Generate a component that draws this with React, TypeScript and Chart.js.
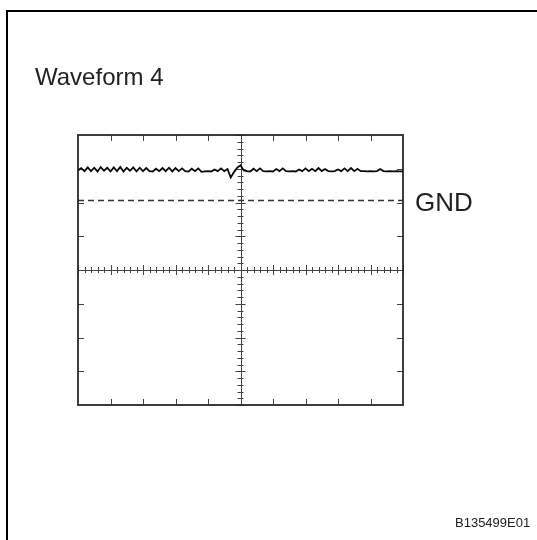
import React, { useEffect, useRef } from "react";
import { Chart, registerables } from "chart.js";

Chart.register(...registerables);

const TITLE = "Waveform 4";
const GND_LABEL = "GND";
const CODE_LABEL = "B135499E01";

const X_DIVISIONS = 10;
const Y_MIN = -4;
const Y_MAX = 4;
const GND_LEVEL = 2.07;
const SAMPLE_STEP = 0.1;

const waveValues: number[] = [
  2.95, 3.02, 2.93, 3.04, 2.93, 3.03, 2.92, 3.05, 2.94, 3.03,
  2.92, 3.04, 2.93, 3.05, 2.92, 3.03, 2.94, 3.04, 2.92, 3.03,
  2.93, 3.02, 2.93, 2.92, 3.0, 2.93, 3.02, 2.93, 3.03, 2.92,
  3.02, 2.93, 3.01, 2.93, 2.92, 3.0, 2.93, 3.01, 2.91, 2.92,
  2.93, 2.92, 2.98, 2.93, 3.01, 2.93, 2.99, 2.74, 2.9, 3.03,
  3.1, 2.95, 2.93, 2.92, 3.0, 2.93, 3.01, 2.93, 2.92, 2.93,
  2.92, 2.99, 2.93, 3.01, 2.93, 2.92, 2.93, 2.92, 2.98, 2.93,
  3.01, 2.93, 3.0, 2.93, 3.02, 2.93, 2.99, 2.93, 2.92, 2.93,
  2.98, 2.93, 3.01, 2.93, 3.02, 2.93, 3.0, 2.93, 2.93, 2.92,
  2.93, 2.92, 2.93, 2.99, 2.93, 2.92, 2.93, 2.92, 2.93, 2.92,
  2.92,
];

const scopePlugin = {
  id: "scopeGrid",
  beforeDatasetsDraw(chart: any) {
    const ctx = chart.ctx as CanvasRenderingContext2D;
    const xs = chart.scales.x;
    const ys = chart.scales.y;
    const left = xs.getPixelForValue(0);
    const right = xs.getPixelForValue(X_DIVISIONS);
    const top = ys.getPixelForValue(Y_MAX);
    const bottom = ys.getPixelForValue(Y_MIN);
    const cx = xs.getPixelForValue(X_DIVISIONS / 2);
    const cy = ys.getPixelForValue(0);
    ctx.save();

    // outer frame (top and left)
    ctx.strokeStyle = "#000";
    ctx.lineWidth = 2;
    ctx.beginPath();
    ctx.moveTo(7, 540);
    ctx.lineTo(7, 11);
    ctx.lineTo(537, 11);
    ctx.stroke();

    // center lines
    ctx.strokeStyle = "#444";
    ctx.lineWidth = 1;
    ctx.beginPath();
    ctx.moveTo(left, Math.round(cy) + 0.5);
    ctx.lineTo(right, Math.round(cy) + 0.5);
    ctx.moveTo(Math.round(cx) + 0.5, top);
    ctx.lineTo(Math.round(cx) + 0.5, bottom);
    ctx.stroke();

    // ticks on center lines
    ctx.beginPath();
    for (let i = 0; i <= X_DIVISIONS * 5; i++) {
      const v = i / 5;
      const px = Math.round(xs.getPixelForValue(v)) + 0.5;
      const len = i % 5 === 0 ? 5 : 3;
      ctx.moveTo(px, cy - len);
      ctx.lineTo(px, cy + len);
    }
    for (let i = 0; i <= (Y_MAX - Y_MIN) * 5; i++) {
      const v = Y_MIN + i / 5;
      const py = Math.round(ys.getPixelForValue(v)) + 0.5;
      const len = i % 5 === 0 ? 5 : 3;
      ctx.moveTo(cx - len, py);
      ctx.lineTo(cx + len, py);
    }
    ctx.stroke();

    // edge ticks
    ctx.beginPath();
    for (let i = 1; i < X_DIVISIONS; i++) {
      const px = Math.round(xs.getPixelForValue(i)) + 0.5;
      ctx.moveTo(px, top);
      ctx.lineTo(px, top + 6);
      ctx.moveTo(px, bottom);
      ctx.lineTo(px, bottom - 6);
    }
    for (let v = Y_MIN + 1; v < Y_MAX; v++) {
      const py = Math.round(ys.getPixelForValue(v)) + 0.5;
      ctx.moveTo(left, py);
      ctx.lineTo(left + 6, py);
      ctx.moveTo(right, py);
      ctx.lineTo(right - 6, py);
    }
    ctx.stroke();

    // GND dashed line
    const gy = Math.round(ys.getPixelForValue(GND_LEVEL)) + 0.5;
    ctx.setLineDash([6, 4]);
    ctx.lineWidth = 1.5;
    ctx.strokeStyle = "#333";
    ctx.beginPath();
    ctx.moveTo(left, gy);
    ctx.lineTo(right, gy);
    ctx.stroke();
    ctx.setLineDash([]);

    // box
    ctx.strokeStyle = "#2a2a2a";
    ctx.lineWidth = 1.8;
    ctx.strokeRect(left, top, right - left, bottom - top);

    // texts
    ctx.fillStyle = "#222";
    ctx.textBaseline = "alphabetic";
    ctx.textAlign = "left";
    ctx.font = "24px 'Liberation Sans', Arial, sans-serif";
    ctx.fillText(TITLE, 35, 85);
    ctx.font = "26px 'Liberation Sans', Arial, sans-serif";
    ctx.fillText(GND_LABEL, right + 12, gy + 10);
    ctx.font = "13px 'Liberation Sans', Arial, sans-serif";
    ctx.fillText(CODE_LABEL, 455, 527);
    ctx.restore();
  },
};

export default function App() {
  const canvasRef = useRef<HTMLCanvasElement | null>(null);

  useEffect(() => {
    const canvas = canvasRef.current;
    if (!canvas) return;
    const points = waveValues.map((v, i) => ({ x: i * SAMPLE_STEP, y: v }));
    const chart = new Chart(canvas, {
      type: "line",
      data: {
        datasets: [
          {
            data: points,
            borderColor: "#0a0a0a",
            borderWidth: 1.8,
            pointRadius: 0,
            tension: 0,
          },
        ],
      },
      options: {
        animation: false,
        responsive: false,
        devicePixelRatio: 1,
        layout: { padding: { left: 78, right: 134, top: 135, bottom: 135 } },
        plugins: { legend: { display: false }, tooltip: { enabled: false } },
        scales: {
          x: { type: "linear", min: 0, max: X_DIVISIONS, display: false },
          y: { type: "linear", min: Y_MIN, max: Y_MAX, display: false },
        },
      },
      plugins: [scopePlugin],
    });
    return () => chart.destroy();
  }, []);

  return (
    <div style={{ position: "fixed", left: 0, top: 0, width: 537, height: 540, background: "#fff" }}>
      <canvas ref={canvasRef} width={537} height={540} style={{ display: "block" }} />
    </div>
  );
}
